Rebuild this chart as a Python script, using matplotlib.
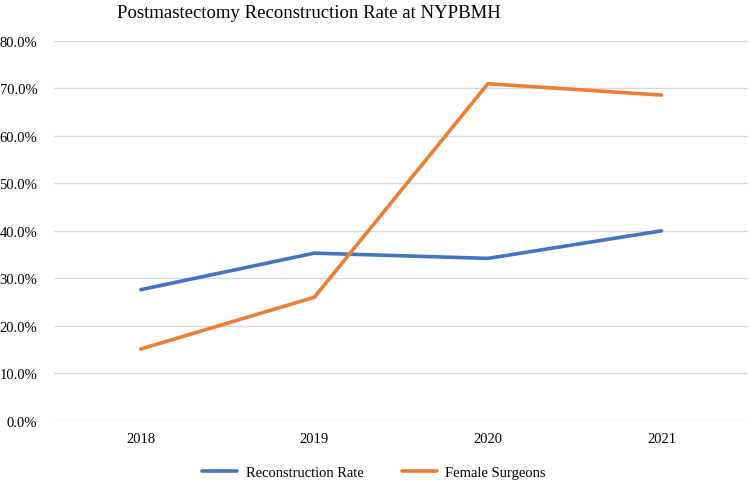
import matplotlib.pyplot as plt
from matplotlib.ticker import FuncFormatter

years = ["2018", "2019", "2020", "2021"]
reconstruction_rate = [27.6, 35.3, 34.2, 40.0]
female_surgeons = [15.1, 26.0, 71.0, 68.6]

plt.rcParams['font.family'] = ['Liberation Serif', 'DejaVu Serif']

fig = plt.figure(figsize=(7.49, 4.81), dpi=100)
ax = fig.add_axes([0.072, 0.1233, 0.927, 0.7894])

x = range(len(years))
ax.plot(x, reconstruction_rate, color='#4472C4', lw=2.6, label='Reconstruction Rate',
        solid_capstyle='round', solid_joinstyle='round')
ax.plot(x, female_surgeons, color='#ED7D31', lw=2.6, label='Female Surgeons',
        solid_capstyle='round', solid_joinstyle='round')

ax.set_xlim(-0.5, 3.5)
ax.set_ylim(0, 80)
ax.set_yticks(range(0, 81, 10))
ax.yaxis.set_major_formatter(FuncFormatter(lambda v, p: f"{v:.1f}%"))
ax.set_xticks(list(x))
ax.set_xticklabels(years)
ax.grid(axis='y', color='#D9D9D9', lw=1)
ax.set_axisbelow(True)
for s in ax.spines.values():
    s.set_visible(False)
ax.tick_params(length=0, labelsize=10.5, colors='#000000', pad=8)
ax.tick_params(axis='y', pad=12)

fig.text(117 / 749, 1 - 18 / 481, "Postmastectomy Reconstruction Rate at NYPBMH",
         fontsize=13.5, ha='left', va='baseline')

fig.legend(loc='center', bbox_to_anchor=(374 / 749, 1 - 473 / 481), ncol=2,
           frameon=False, fontsize=10.5, handlelength=2.4, columnspacing=2.6,
           handletextpad=0.6)

fig.savefig("out.png", dpi=100)
